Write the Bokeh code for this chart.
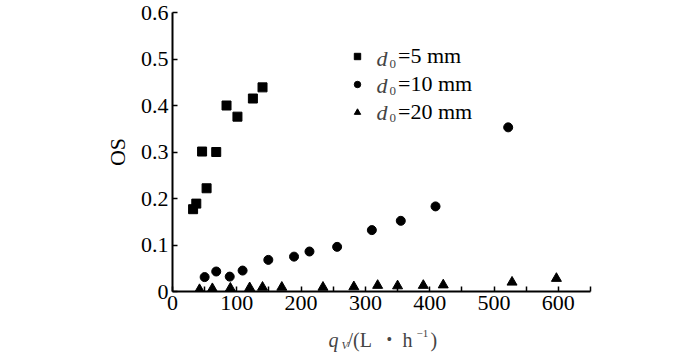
from bokeh.plotting import figure
from bokeh.layouts import column
from bokeh.models import (Range1d, FixedTicker, Legend, LegendItem, Label)
from bokeh.embed import file_html
from bokeh.resources import INLINE

# ---- data ----
sq_x = [32, 37, 46, 53, 68, 84, 101, 125, 140]
sq_y = [0.177, 0.189, 0.301, 0.222, 0.300, 0.400, 0.376, 0.415, 0.439]
ci_x = [50, 68, 89, 109, 149, 189, 213, 256, 310, 355, 409, 522]
ci_y = [0.031, 0.043, 0.032, 0.045, 0.068, 0.075, 0.086, 0.096, 0.132, 0.152, 0.183, 0.353]
tr_x = [42, 62, 90, 120, 140, 170, 234, 282, 319, 350, 390, 421, 528, 597]
tr_y = [0.004, 0.006, 0.007, 0.008, 0.009, 0.009, 0.009, 0.010, 0.013, 0.012, 0.013, 0.014, 0.020, 0.028]
legend_labels = ["=5 mm", "=10 mm", "=20 mm"]
x_ticks = [0, 100, 200, 300, 400, 500, 600]
x_minor = [50, 150, 250, 350, 450, 550, 650]
y_ticks = [0, 0.1, 0.2, 0.3, 0.4, 0.5, 0.6]
y_tick_labels = ["0", "0.1", "0.2", "0.3", "0.4", "0.5", "0.6"]

FONT = "Liberation Serif"

p = figure(width=700, height=322, output_backend="svg", toolbar_location=None,
           x_range=Range1d(0, 650), y_range=Range1d(0, 0.6),
           min_border_left=172, min_border_right=110, min_border_top=12,
           min_border_bottom=31)
p.outline_line_color = None
p.xgrid.visible = False
p.ygrid.visible = False
p.background_fill_color = "white"

r1 = p.scatter(sq_x, sq_y, marker="square", size=9, color="black")
r2 = p.scatter(ci_x, ci_y, marker="circle", size=9, color="black")
r3 = p.scatter(tr_x, tr_y, marker="triangle", size=10, color="black")

for ax in (p.xaxis[0], p.yaxis[0]):
    ax.axis_line_width = 2
    ax.axis_line_color = "black"
    ax.major_tick_line_width = 1.5
    ax.minor_tick_line_width = 1.5
    ax.major_tick_in = 5
    ax.major_tick_out = 0
    ax.minor_tick_in = 5
    ax.minor_tick_out = 0
    ax.major_label_text_font = FONT
    ax.major_label_text_font_size = "22px"
    ax.major_label_text_color = "black"
    ax.major_label_standoff = 4
    ax.axis_label_text_font = FONT
    ax.axis_label_text_font_style = "normal"
    ax.axis_label_text_font_size = "22px"
    ax.axis_label_text_color = "black"

p.xaxis.ticker = FixedTicker(ticks=x_ticks, minor_ticks=x_minor)
p.yaxis.ticker = FixedTicker(ticks=y_ticks, minor_ticks=[])
p.yaxis.major_label_overrides = {t: s for t, s in zip(y_ticks, y_tick_labels)}
p.yaxis.axis_label = "OS"
p.yaxis.axis_label_standoff = 8

# legend (text part after the italic d with subscript)
legend = Legend(items=[LegendItem(label=legend_labels[i], renderers=[r])
                       for i, r in enumerate([r1, r2, r3])],
                location=(177, 166), padding=0, margin=0, spacing=2,
                glyph_width=16, glyph_height=16, label_height=20,
                label_standoff=33, border_line_alpha=0, background_fill_alpha=0,
                label_text_font=FONT, label_text_font_size="22px",
                label_text_color="black")
p.add_layout(legend)

for i in range(3):
    yc = 233 - 27 * i
    p.add_layout(Label(x=204, y=yc, x_units="screen", y_units="screen", text="d",
                       text_font=FONT, text_font_style="italic", text_font_size="22px",
                       text_baseline="middle", text_align="left"))
    p.add_layout(Label(x=217, y=yc - 5, x_units="screen", y_units="screen", text="0",
                       text_font=FONT, text_font_size="13px",
                       text_baseline="middle", text_align="left"))

# strip below the chart holding the x-axis title q_V/(L · h^-1)
t = figure(width=700, height=31, output_backend="svg", toolbar_location=None,
           x_range=Range1d(0, 650), y_range=Range1d(0, 31),
           x_axis_type=None, y_axis_type=None,
           min_border_left=172, min_border_right=110, min_border_top=0, min_border_bottom=0)
t.outline_line_color = None
t.xgrid.visible = False
t.ygrid.visible = False

x0 = 172
mid = 14  # text middle, px above the bottom of the strip


def piece(x, y, txt, size, style="normal"):
    t.add_layout(Label(x=x - x0, y=y, x_units="screen", y_units="screen", text=txt,
                       text_font=FONT, text_font_style=style, text_font_size=size,
                       text_baseline="middle", text_align="left"))


piece(328, mid, "q", "20px", "italic")
piece(341, mid - 5, "V", "11px", "italic")
piece(347, mid, "/(L", "20px")
piece(386, mid, "\u2022", "16px")
piece(402, mid, "h", "20px")
piece(416, mid + 6, "\u22121", "11px")
piece(430, mid, ")", "20px")

layout = column(p, t, spacing=0)
open("out.html", "w").write(file_html(layout, INLINE))
